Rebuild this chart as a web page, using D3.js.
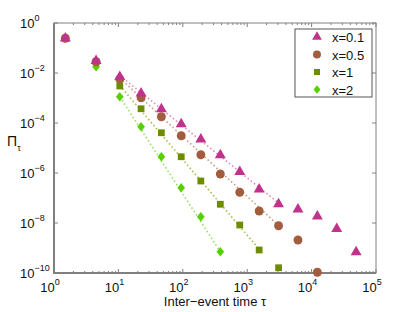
<!DOCTYPE html>
<html>
<head>
<meta charset="utf-8">
<script src="https://cdn.jsdelivr.net/npm/d3@7"></script>
<style>
  body { margin: 0; background: #fff; }
  text { font-family: "Liberation Sans", Arial, sans-serif; fill: #111; }
</style>
</head>
<body>
<div id="chart"></div>
<script>
// bin centres (inter-event time)
const tau = [1.5, 4.5, 10.5, 22.5, 46.5, 94.5, 190.5, 382.5, 766.5, 1534.5, 3070.5, 6142.5, 12286.5, 24574.5, 49150.5];

// log10 of Pi_tau
const logP01 = [-0.61, -1.51, -2.15, -2.81, -3.44, -4.04, -4.65, -5.28, -5.95, -6.65, -7.24, -7.45, -7.73, -8.23, -9.16];
const logP05 = [-0.61, -1.55, -2.24, -2.99, -3.75, -4.51, -5.27, -6.04, -6.77, -7.52, -8.11, -8.68, -9.97];
const logP1  = [-0.61, -1.55, -2.52, -3.43, -4.39, -5.35, -6.32, -7.25, -8.08, -9.08, -9.79];
const logP2  = [-0.60, -1.75, -2.95, -4.15, -5.35, -6.59, -7.75, -9.15];

// dotted fit lines: [tauStart, tauEnd], [log start, log end]
const fitTau = [[10.5, 3070.5], [10.5, 3070.5], [10.5, 1534.5], [10.5, 382.5]];
const fitLog = [[-2.1, -7.2], [-2.2, -8.1], [-2.5, -9.05], [-2.95, -9.15]];

const labels = ['x=0.1', 'x=0.5', 'x=1', 'x=2'];
const xTickExp = [0, 1, 2, 3, 4, 5];
const yTickExp = [0, -2, -4, -6, -8, -10];

const colors = ['#c0338c', '#a25c3e', '#6e8c00', '#58d000'];
const lineColors = ['#e586bd', '#c99a80', '#a4bd46', '#93e25a'];

// wider diamond than d3's default
const wideDiamond = {
  draw(ctx, size) {
    const h = Math.sqrt(size) * 0.68, w = h * 0.8;
    ctx.moveTo(0, -h); ctx.lineTo(w, 0); ctx.lineTo(0, h); ctx.lineTo(-w, 0); ctx.closePath();
  }
};
const symbols = [d3.symbolTriangle, d3.symbolCircle, d3.symbolSquare, wideDiamond];
const symSizes = [52, 62, 46, 50];

const dims = { width: 415, height: 312, margin: { top: 23, right: 39, bottom: 39, left: 54 } };
dims.ctrWidth = dims.width - dims.margin.left - dims.margin.right;
dims.ctrHeight = dims.height - dims.margin.top - dims.margin.bottom;

const svg = d3.select('#chart').append('svg')
  .attr('width', dims.width)
  .attr('height', dims.height);

const ctr = svg.append('g')
  .attr('transform', `translate(${dims.margin.left},${dims.margin.top})`);

const xScale = d3.scaleLog().domain([1, 1e5]).range([0, dims.ctrWidth]);
const yScale = d3.scaleLog().domain([1e-10, 1]).range([dims.ctrHeight, 0]);

// ticks (inward), bottom + top
const minorX = [];
for (let e = 0; e < 5; e++) for (let m = 2; m < 10; m++) minorX.push(m * Math.pow(10, e));

const axisColor = '#808080';
const tickG = ctr.append('g').attr('stroke', axisColor).attr('stroke-width', 1);
[0, dims.ctrHeight].forEach(y0 => {
  const dir = y0 === 0 ? 1 : -1;
  tickG.selectAll(null).data(xTickExp).join('line')
    .attr('x1', d => xScale(Math.pow(10, d))).attr('x2', d => xScale(Math.pow(10, d)))
    .attr('y1', y0).attr('y2', y0 + dir * 4);
  tickG.selectAll(null).data(minorX).join('line')
    .attr('x1', d => xScale(d)).attr('x2', d => xScale(d))
    .attr('y1', y0).attr('y2', y0 + dir * 2);
});
[0, dims.ctrWidth].forEach(x0 => {
  const dir = x0 === 0 ? 1 : -1;
  tickG.selectAll(null).data(yTickExp).join('line')
    .attr('y1', d => yScale(Math.pow(10, d))).attr('y2', d => yScale(Math.pow(10, d)))
    .attr('x1', x0).attr('x2', x0 + dir * 4);
});

// frame
ctr.append('rect')
  .attr('width', dims.ctrWidth).attr('height', dims.ctrHeight)
  .attr('fill', 'none').attr('stroke', axisColor).attr('stroke-width', 1);
ctr.append('path')
  .attr('d', `M0,0V${dims.ctrHeight}H${dims.ctrWidth}`)
  .attr('fill', 'none').attr('stroke', axisColor).attr('stroke-width', 2);

// tick labels
const xLab = ctr.append('g').selectAll('text').data(xTickExp).join('text')
  .attr('x', d => xScale(Math.pow(10, d)) - 4)
  .attr('y', dims.ctrHeight + 19)
  .attr('text-anchor', 'middle')
  .style('font-size', '13px');
xLab.append('tspan').text('10');
xLab.append('tspan').attr('dy', -7).style('font-size', '9px').text(d => d);

const yLab = ctr.append('g').selectAll('text').data(yTickExp).join('text')
  .attr('x', -34)
  .attr('y', d => yScale(Math.pow(10, d)) + 5)
  .style('font-size', '13px');
yLab.append('tspan').text('10');
yLab.append('tspan').attr('dy', -7).style('font-size', '9px').text(d => d === 0 ? '0' : '\u2212' + Math.abs(d));

// axis titles
svg.append('text')
  .attr('x', dims.margin.left + dims.ctrWidth / 2)
  .attr('y', 306)
  .attr('text-anchor', 'middle')
  .style('font-size', '13px')
  .text('Inter\u2212event time \u03c4');

const yt = svg.append('text').attr('x', 7).attr('y', 146).style('font-size', '14px');
yt.append('tspan').text('\u03a0');
yt.append('tspan').attr('dy', 5).style('font-size', '9px').text('\u03c4');

// fit lines
const line = d3.line().x(d => xScale(d[0])).y(d => yScale(Math.pow(10, d[1])));
ctr.append('g').selectAll('path').data(fitTau).join('path')
  .attr('d', (d, i) => line([[d[0], fitLog[i][0]], [d[1], fitLog[i][1]]]))
  .attr('fill', 'none')
  .attr('stroke', (d, i) => lineColors[i])
  .attr('stroke-width', 1.6)
  .attr('stroke-dasharray', '1.5,2.5');

// markers (drawn so that the x=0.1 series ends on top)
const series = [logP01, logP05, logP1, logP2];
[3, 2, 1, 0].forEach(i => {
  ctr.append('g').selectAll('path').data(series[i]).join('path')
    .attr('transform', (d, j) => `translate(${xScale(tau[j])},${yScale(Math.pow(10, d))})`)
    .attr('d', d3.symbol().type(symbols[i]).size(symSizes[i]))
    .attr('fill', colors[i]);
});

// legend
const lg = svg.append('g').attr('transform', 'translate(295,29)');
lg.append('rect').attr('width', 77).attr('height', 68)
  .attr('fill', '#fff').attr('stroke', '#555').attr('stroke-width', 1);
const item = lg.selectAll('g').data(labels).join('g')
  .attr('transform', (d, i) => `translate(0,${8 + i * 17.5})`);
item.append('path')
  .attr('transform', 'translate(22,0)')
  .attr('d', (d, i) => d3.symbol().type(symbols[i]).size(symSizes[i] * 0.8)())
  .attr('fill', (d, i) => colors[i]);
item.append('text')
  .attr('x', 37).attr('y', 5)
  .style('font-size', '13px')
  .text(d => d);
</script>
</body>
</html>
